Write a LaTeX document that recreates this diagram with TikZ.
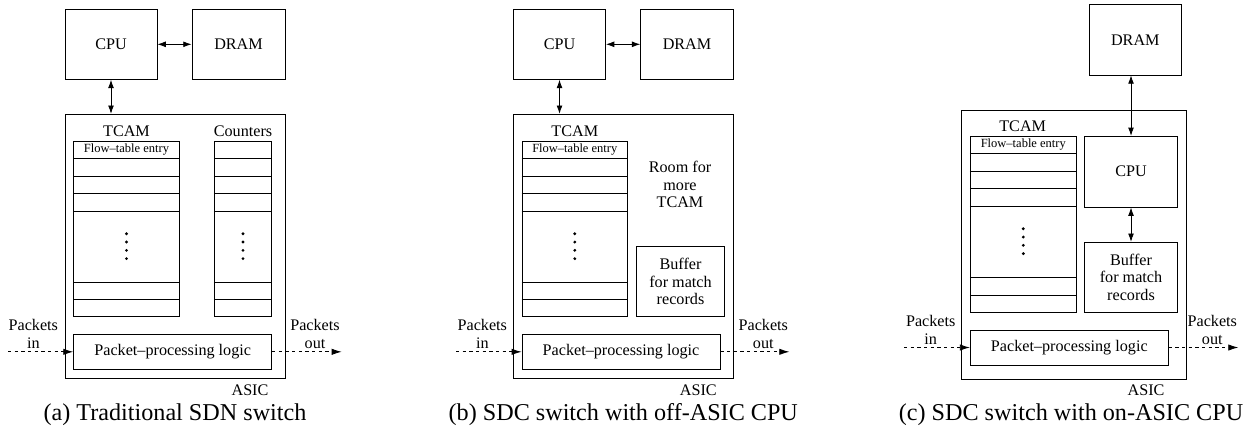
\documentclass[tikz,border=0pt]{standalone}
\usepackage{fontspec}
\setmainfont{Liberation Serif}
\usetikzlibrary{arrows.meta, calc, positioning}

\begin{document}
\begin{tikzpicture}[
        x=0.6pt, y=-0.6pt,
        line width=0.5pt,
        box/.style 2 args={draw, minimum width=#1*0.6pt, minimum height=#2*0.6pt, inner sep=0pt, align=center, font=\fontsize{9.7}{10.6}\selectfont},
        txt/.style={inner sep=0pt, align=center, font=\fontsize{9.7}{10.6}\selectfont},
        small/.style={inner sep=0pt, font=\fontsize{7.5}{8}\selectfont},
        caption/.style={inner sep=0pt, font=\fontsize{14.5}{17}\selectfont},
        link/.style={arrows={Latex[length=5pt,width=3.5pt]-Latex[length=5pt,width=3.5pt]}},
        flow/.style={dash pattern=on 2pt off 2pt, -{Latex[length=6pt,width=3.8pt]}}
    ]
    \useasboundingbox (0,0) rectangle (1246,431);

    % (a) traditional switch
    \node (cpuA) [box={92}{70}] at (111,44.3) {CPU};
    \node (dramA) [box={93}{70}] at (238.5,44.3) {DRAM};
    \node (asicA) [box={220}{264}] at (175,246.3) {};
    \node (tcamA) [box={105.6}{175.4}] at (126.5,229) {};
    \node (cntA) [box={57.4}{175.4}] at (243,229) {};
    \node (pplA) [box={198}{35}] at (172.7,351.8) {Packet--processing logic};
    \node (tcamlabA) [txt] at (126.5,131.7) {TCAM};
    \node (cntlabA) [txt] at (243,131.7) {Counters};
    \node (entryA) [small] at ($(tcamA.north)+(0,8.8)$) {Flow--table entry};
    \foreach \k in {1,...,4} {
        \draw ($(tcamA.north west)+(0,\k*17.6)$) -- ($(tcamA.north east)+(0,\k*17.6)$);
        \draw ($(cntA.north west)+(0,\k*17.6)$) -- ($(cntA.north east)+(0,\k*17.6)$);
    }
    \foreach \k in {1,2} {
        \draw ($(tcamA.south west)-(0,\k*17.6)$) -- ($(tcamA.south east)-(0,\k*17.6)$);
        \draw ($(cntA.south west)-(0,\k*17.6)$) -- ($(cntA.south east)-(0,\k*17.6)$);
    }
    \foreach \d in {-1.5,-0.5,0.5,1.5} {
        \fill ($(tcamA.north)+(0,105.3+\d*8.3)$) circle (0.95pt);
        \fill ($(cntA.north)+(0,105.3+\d*8.3)$) circle (0.95pt);
    }
    \node (inlabA) [txt] at (33.3,334.2) {Packets\\in};
    \node (outlabA) [txt] at (315,334.2) {Packets\\out};
    \coordinate (inA) at (8,351.8);
    \coordinate (outA) at (341.7,351.8);
    \node (asiclabA) [txt] at (250,390.7) {ASIC};
    \node (capA) [caption] at (175,415) {(a) Traditional SDN switch};
    \draw[link] (cpuA) -- (dramA);
    \draw[link] (cpuA.south) -- (cpuA.south |- asicA.north);
    \draw[flow] (inA) -- (pplA.west);
    \draw[flow] (pplA.east) -- (outA);

    % (b) off-ASIC CPU
    \node (cpuB) [box={92}{70}] at (559.5,44.3) {CPU};
    \node (dramB) [box={92.6}{70}] at (687,44.3) {DRAM};
    \node (asicB) [box={220}{264}] at (623.3,246.3) {};
    \node (tcamB) [box={105.7}{175.4}] at (574.8,229) {};
    \node (bufB) [box={87.6}{70}] at (680.5,281.7) {Buffer\\for match\\records};
    \node (pplB) [box={198}{35}] at (621,351.8) {Packet--processing logic};
    \node (tcamlabB) [txt] at (574.8,131.7) {TCAM};
    \node (roomB) [txt] at (680,184.5) {Room for\\more\\TCAM};
    \node (entryB) [small] at ($(tcamB.north)+(0,8.8)$) {Flow--table entry};
    \foreach \k in {1,...,4}
        \draw ($(tcamB.north west)+(0,\k*17.6)$) -- ($(tcamB.north east)+(0,\k*17.6)$);
    \foreach \k in {1,2}
        \draw ($(tcamB.south west)-(0,\k*17.6)$) -- ($(tcamB.south east)-(0,\k*17.6)$);
    \foreach \d in {-1.5,-0.5,0.5,1.5}
        \fill ($(tcamB.north)+(0,105.3+\d*8.3)$) circle (0.95pt);
    \node (inlabB) [txt] at (482.3,334.2) {Packets\\in};
    \node (outlabB) [txt] at (763.3,334.2) {Packets\\out};
    \coordinate (inB) at (456,351.8);
    \coordinate (outB) at (789.3,351.8);
    \node (asiclabB) [txt] at (698.3,390.7) {ASIC};
    \node (capB) [caption] at (623.3,415) {(b) SDC switch with off-ASIC CPU};
    \draw[link] (cpuB) -- (dramB);
    \draw[link] (cpuB.south) -- (cpuB.south |- asicB.north);
    \draw[flow] (inB) -- (pplB.west);
    \draw[flow] (pplB.east) -- (outB);

    % (c) on-ASIC CPU
    \node (dramC) [box={92}{70.3}] at (1135.3,39.8) {DRAM};
    \node (asicC) [box={224.3}{268.7}] at (1073.8,244.7) {};
    \node (tcamC) [box={106}{176}] at (1023.3,224.3) {};
    \node (cpuC) [box={92.6}{70.7}] at (1131,171.7) {CPU};
    \node (bufC) [box={92.6}{70}] at (1131,277.3) {Buffer\\for match\\records};
    \node (pplC) [box={198}{35}] at (1069.3,347.5) {Packet--processing logic};
    \node (tcamlabC) [txt] at (1022.7,126.7) {TCAM};
    \node (entryC) [small] at ($(tcamC.north)+(0,8.8)$) {Flow--table entry};
    \foreach \k in {1,...,4}
        \draw ($(tcamC.north west)+(0,\k*17.6)$) -- ($(tcamC.north east)+(0,\k*17.6)$);
    \foreach \k in {1,2}
        \draw ($(tcamC.south west)-(0,\k*17.6)$) -- ($(tcamC.south east)-(0,\k*17.6)$);
    \foreach \d in {-1.5,-0.5,0.5,1.5}
        \fill ($(tcamC.north)+(0,105.3+\d*8.3)$) circle (0.95pt);
    \node (inlabC) [txt] at (930.7,329.7) {Packets\\in};
    \node (outlabC) [txt] at (1212.3,329.7) {Packets\\out};
    \coordinate (inC) at (904,347.5);
    \coordinate (outC) at (1238.3,347.5);
    \node (asiclabC) [txt] at (1146,390.7) {ASIC};
    \node (capC) [caption] at (1071,415) {(c) SDC switch with on-ASIC CPU};
    \draw[link] (cpuC.north |- dramC.south) -- (cpuC.north);
    \draw[link] (cpuC) -- (bufC);
    \draw[flow] (inC) -- (pplC.west);
    \draw[flow] (pplC.east) -- (outC);

\end{tikzpicture}
\end{document}
